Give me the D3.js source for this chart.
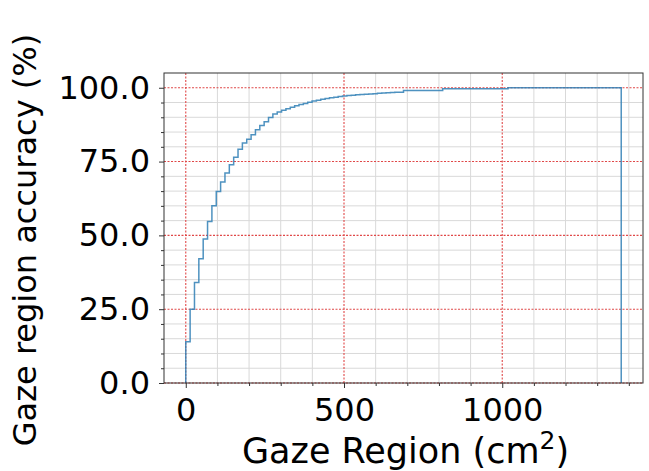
<!DOCTYPE html>
<html>
<head>
<meta charset="utf-8">
<script src="https://cdn.jsdelivr.net/npm/d3@7"></script>
<style>
  body { margin: 0; background: #fff; }
  text { font-family: "DejaVu Sans", sans-serif; fill: #000; }
</style>
</head>
<body>
<div id="chart"></div>
<script>
let margin = {top: 73, right: 6, bottom: 88, left: 164},
    width = 649 - margin.left - margin.right,
    height = 471 - margin.top - margin.bottom

// Histogram: 100 equal bins from 0 to the largest gaze region
const binStart = 0
const binEnd = 1376
const cumulative = [
  14.0, 25.0, 34.0, 42.1, 48.8, 54.7, 60.0, 64.9, 68.1, 71.1,
  73.9, 76.5, 79.2, 81.3, 82.6, 84.1, 85.8, 87.2, 88.5, 89.9,
  91.1, 91.8, 92.4, 92.9, 93.4, 93.9, 94.3, 94.7, 95.1, 95.5,
  95.8, 96.1, 96.4, 96.6, 96.8, 97.0, 97.2, 97.4, 97.5, 97.6,
  97.7, 97.8, 97.9, 98.0, 98.1, 98.2, 98.3, 98.4, 98.5, 98.5,
  99.1, 99.1, 99.1, 99.1, 99.1, 99.1, 99.1, 99.1, 99.1, 99.7,
  99.7, 99.7, 99.7, 99.7, 99.7, 99.7, 99.7, 99.7, 99.7, 99.7,
  99.7, 99.7, 99.7, 99.7, 100, 100, 100, 100, 100, 100,
  100, 100, 100, 100, 100, 100, 100, 100, 100, 100,
  100, 100, 100, 100, 100, 100, 100, 100, 100, 100
]
const xMajorTicks = [0, 500, 1000]
const xMinorTicks = [100, 200, 300, 400, 600, 700, 800, 900, 1100, 1200, 1300, 1400]
const yMajorTicks = [0, 25, 50, 75, 100]
const yMinorTicks = d3.range(0, 101, 5).filter(function(d) { return d % 25 !== 0 })

let svg = d3.select("#chart")
            .append('svg')
            .attr('width', width + margin.left + margin.right)
            .attr('height', height + margin.top + margin.bottom)
            .append("g")
            .attr('transform', "translate(" + margin.left + "," + margin.top + ")")

// matplotlib style 5% margin on x, y from 0 with 5% headroom
let span = binEnd - binStart
let x = d3.scaleLinear()
          .domain([binStart - 0.05 * span, binEnd + 0.05 * span])
          .range([0, width])
let y = d3.scaleLinear()
          .domain([0, 105])
          .range([height, 0])

// Minor grid
svg.append('g').selectAll('line').data(xMinorTicks).enter().append('line')
   .attr('x1', function(d) { return x(d) }).attr('x2', function(d) { return x(d) })
   .attr('y1', 0).attr('y2', height)
   .attr('stroke', '#d9d9d9').attr('stroke-width', 1)
svg.append('g').selectAll('line').data(yMinorTicks).enter().append('line')
   .attr('y1', function(d) { return y(d) }).attr('y2', function(d) { return y(d) })
   .attr('x1', 0).attr('x2', width)
   .attr('stroke', '#d9d9d9').attr('stroke-width', 1)

// Major grid, red dotted
svg.append('g').selectAll('line').data(xMajorTicks).enter().append('line')
   .attr('x1', function(d) { return x(d) }).attr('x2', function(d) { return x(d) })
   .attr('y1', 0).attr('y2', height)
   .attr('stroke', '#e04848').attr('stroke-width', 1.1)
   .attr('stroke-dasharray', '2,1.5')
svg.append('g').selectAll('line').data(yMajorTicks).enter().append('line')
   .attr('y1', function(d) { return y(d) }).attr('y2', function(d) { return y(d) })
   .attr('x1', 0).attr('x2', width)
   .attr('stroke', '#e04848').attr('stroke-width', 1.1)
   .attr('stroke-dasharray', '2,1.5')

// Step outline of the cumulative histogram
let binWidth = span / cumulative.length
let pts = [[binStart, 0]]
cumulative.forEach(function(v, i) {
  pts.push([binStart + i * binWidth, v])
  pts.push([binStart + (i + 1) * binWidth, v])
})
pts.push([binEnd, 0])

svg.append('path')
   .datum(pts)
   .attr('d', d3.line().x(function(d) { return x(d[0]) }).y(function(d) { return y(d[1]) }))
   .attr('fill', 'none')
   .attr('stroke', '#2f7fb5')
   .attr('stroke-opacity', 0.85)
   .attr('stroke-width', 1.5)

// Axes
let xAxis = svg.append('g').attr('transform', "translate(0," + height + ")")
xAxis.call(d3.axisBottom(x).tickValues(xMajorTicks).tickSize(5).tickPadding(10).tickFormat(d3.format('d')))
xAxis.append('g').call(d3.axisBottom(x).tickValues(xMinorTicks).tickSize(3).tickFormat(''))

let yAxis = svg.append('g')
yAxis.call(d3.axisLeft(y).tickValues(yMajorTicks).tickSize(5).tickPadding(9).tickFormat(d3.format('.1f')))
yAxis.append('g').call(d3.axisLeft(y).tickValues(yMinorTicks).tickSize(3).tickFormat(''))

svg.selectAll('.domain').remove()
svg.selectAll('.tick line').attr('stroke', '#333')
svg.selectAll('.tick text').style('font-size', '32px').style('font-family', '"DejaVu Sans", sans-serif')

// Frame
svg.append('rect')
   .attr('width', width).attr('height', height)
   .attr('fill', 'none').attr('stroke', '#333').attr('stroke-width', 1)

// Labels
let xl = svg.append('text')
   .attr('x', width / 2 + 2).attr('y', height + 80)
   .attr('text-anchor', 'middle')
   .style('font-size', '35px')
xl.append('tspan').text("Gaze Region (cm")
xl.append('tspan').text("2").attr('dy', -14).style('font-size', '25px')
xl.append('tspan').text(")").attr('dy', 14)

svg.append('text')
   .attr('transform', "translate(" + (-128) + "," + (height / 2 + 12) + ") rotate(-90)")
   .attr('text-anchor', 'middle')
   .style('font-size', '32px')
   .text("Gaze region accuracy (%)")
</script>
</body>
</html>
